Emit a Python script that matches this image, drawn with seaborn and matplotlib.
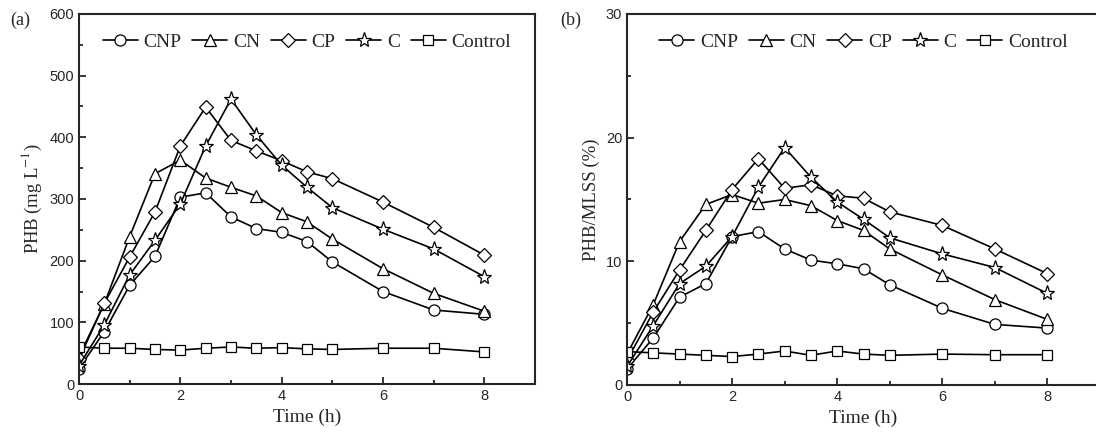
import numpy as np
import pandas as pd
import seaborn as sns
import matplotlib
matplotlib.use("Agg")
import matplotlib.pyplot as plt
from matplotlib.ticker import MultipleLocator

time_h = [0, 0.5, 1, 1.5, 2, 2.5, 3, 3.5, 4, 4.5, 5, 6, 7, 8]
series_names = ["CNP", "CN", "CP", "C", "Control"]

# (a) PHB, mg/L
phb_cnp = [25, 85, 160, 207, 303, 310, 271, 252, 246, 231, 198, 150, 120, 113]
phb_cn = [45, 130, 239, 341, 363, 334, 319, 305, 278, 263, 235, 187, 147, 118]
phb_cp = [40, 131, 206, 279, 386, 449, 395, 378, 362, 344, 333, 295, 254, 209]
phb_c = [30, 96, 177, 233, 292, 386, 462, 404, 355, 319, 286, 251, 219, 174]
phb_control = [60, 58, 58, 56, 55, 58, 60, 58, 59, 57, 56, 58, 58, 52]

# (b) PHB/MLSS, %
pct_cnp = [1.3, 3.8, 7.1, 8.2, 12.0, 12.4, 11.0, 10.1, 9.8, 9.4, 8.1, 6.2, 4.9, 4.6]
pct_cn = [2.5, 6.5, 11.6, 14.6, 15.4, 14.7, 15.0, 14.5, 13.3, 12.5, 11.0, 8.9, 6.9, 5.3]
pct_cp = [2.0, 5.9, 9.3, 12.5, 15.8, 18.3, 15.9, 16.2, 15.3, 15.1, 14.0, 12.9, 11.0, 9.0]
pct_c = [1.5, 4.8, 8.2, 9.6, 12.0, 16.0, 19.2, 16.8, 14.8, 13.4, 11.9, 10.6, 9.5, 7.4]
pct_control = [2.7, 2.6, 2.5, 2.4, 2.3, 2.5, 2.75, 2.4, 2.75, 2.5, 2.4, 2.5, 2.45, 2.45]

sns.set_style("ticks")
plt.rcParams['font.family'] = ['Liberation Serif', 'DejaVu Serif']
plt.rcParams['mathtext.fontset'] = 'stix'

markers = {"CNP": "o", "CN": "^", "CP": "D", "C": "*", "Control": "s"}
msizes = {"CNP": 8, "CN": 9, "CP": 7.5, "C": 11, "Control": 7.5}

fig = plt.figure(figsize=(10.96, 4.37), dpi=100)
ax1 = fig.add_axes([79/1096, 53/437, 456/1096, 370/437])
ax2 = fig.add_axes([627/1096, 52/437, 473/1096, 371/437])

def draw(ax, vals, ylim, major, minor, ylabel):
    for name, v in zip(series_names, vals):
        df = pd.DataFrame({"Time": time_h, "val": v})
        sns.lineplot(data=df, x="Time", y="val", ax=ax, color="black", lw=1.2,
                     marker=markers[name], markersize=msizes[name],
                     markerfacecolor="white", markeredgecolor="black",
                     markeredgewidth=0.9, label=name)
    ax.set_xlim(0, 9)
    ax.set_ylim(*ylim)
    ax.xaxis.set_major_locator(MultipleLocator(2))
    ax.xaxis.set_minor_locator(MultipleLocator(1))
    ax.yaxis.set_major_locator(MultipleLocator(major))
    ax.yaxis.set_minor_locator(MultipleLocator(minor))
    ax.tick_params(which="both", direction="in", width=1.3)
    ax.tick_params(which="major", length=5)
    ax.tick_params(which="minor", length=3)
    for lab in ax.get_xticklabels() + ax.get_yticklabels():
        lab.set_family(['Liberation Sans', 'DejaVu Sans'])
        lab.set_fontsize(10.5)
    for s in ax.spines.values():
        s.set_linewidth(1.5)
        s.set_visible(True)
    ax.set_xlabel("Time (h)", fontsize=14)
    ax.set_ylabel(ylabel, fontsize=13.5)
    ax.legend(loc="upper center", ncol=5, frameon=False, fontsize=14,
              handlelength=1.8, handletextpad=0.3, columnspacing=0.55,
              bbox_to_anchor=(0.5, 0.995))

draw(ax1, [phb_cnp, phb_cn, phb_cp, phb_c, phb_control], (0, 600), 100, 50,
     "PHB\u2009(mg L$^{-1}$)")
draw(ax2, [pct_cnp, pct_cn, pct_cp, pct_c, pct_control], (0, 30), 10, 5,
     "PHB/MLSS\u2009(%)")

fig.text(10/1096, 1 - 20/437, "(a)", fontsize=13, va="center")
fig.text(560/1096, 1 - 20/437, "(b)", fontsize=13, va="center")

fig.savefig("out.png", dpi=100)
